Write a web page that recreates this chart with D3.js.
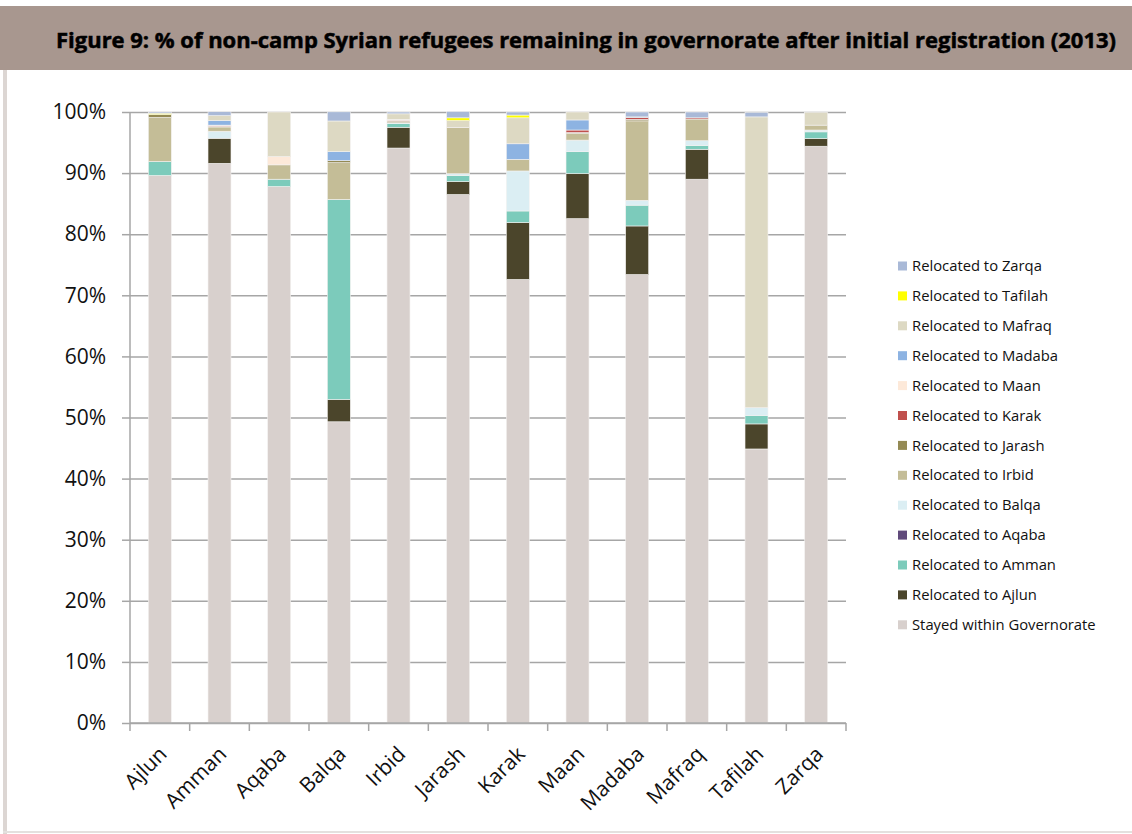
<!DOCTYPE html>
<html>
<head>
<meta charset="utf-8">
<script src="https://cdn.jsdelivr.net/npm/d3@7"></script>
<style>
  html, body { margin: 0; padding: 0; background: #fff; }
  svg { display: block; }
</style>
</head>
<body>
<svg id="chart" width="1132" height="834"></svg>
<script>
// Governorates where refugees first registered
const governorates = ["Ajlun", "Amman", "Aqaba", "Balqa", "Irbid", "Jarash", "Karak", "Maan", "Madaba", "Mafraq", "Tafilah", "Zarqa"];

// Share (%) of each governorate's registrants, by where they ended up
const stayed  = [89.6, 91.6, 87.8, 49.3, 94.1, 86.5, 72.6, 82.55, 73.4, 89.0, 44.85, 94.4];
const toAjlun = [0, 4.1, 0, 3.65, 3.4, 2.1, 9.3, 7.35, 7.95, 4.9, 4.1, 1.25];
const toAmman = [2.3, 0, 1.2, 32.75, 0.6, 1.0, 1.9, 3.6, 3.4, 0.6, 1.35, 1.1];
const toAqaba = [0, 0, 0, 0, 0, 0, 0, 0, 0, 0, 0, 0];
const toBalqa = [0, 1.15, 0, 0, 0.15, 0.3, 6.55, 1.9, 0.8, 0.8, 1.3, 0.3];
const toIrbid = [7.2, 0.7, 2.35, 6.0, 0, 7.6, 1.9, 1.1, 13.0, 3.55, 0, 0.8];
const toJarash = [0.5, 0, 0, 0.33, 0.25, 0, 0, 0.15, 0.25, 0, 0, 0];
const toKarak = [0, 0.15, 0, 0, 0.15, 0, 0, 0.4, 0.3, 0.2, 0, 0];
const toMaan = [0, 0.15, 1.35, 0, 0.15, 0, 0, 0, 0, 0, 0, 0];
const toMadaba = [0, 0.75, 0, 1.5, 0, 0, 2.55, 1.65, 0.1, 0, 0, 0];
const toMafraq = [0, 0.8, 7.3, 5.0, 0.9, 1.1, 4.25, 1.3, 0, 0, 47.6, 2.1];
const toTafilah = [0.2, 0, 0, 0, 0, 0.45, 0.45, 0, 0, 0, 0, 0];
const toZarqa = [0.2, 0.65, 0, 1.5, 0.3, 1.05, 0.5, 0, 0.8, 0.95, 0.75, 0];

// Series names, bottom of the stack first
const seriesNames = [
  "Stayed within Governorate", "Relocated to Ajlun", "Relocated to Amman", "Relocated to Aqaba",
  "Relocated to Balqa", "Relocated to Irbid", "Relocated to Jarash", "Relocated to Karak",
  "Relocated to Maan", "Relocated to Madaba", "Relocated to Mafraq", "Relocated to Tafilah",
  "Relocated to Zarqa"
];
const seriesValues = [stayed, toAjlun, toAmman, toAqaba, toBalqa, toIrbid, toJarash, toKarak,
  toMaan, toMadaba, toMafraq, toTafilah, toZarqa];
const seriesColors = ["#d8d0cd", "#4b452b", "#7ccbbb", "#604a7b", "#dbeef3", "#c4bd97", "#948a54",
  "#c0504d", "#fde9d9", "#8db3e2", "#ddd9c3", "#ffff00", "#a9b9d7"];

const yTicks = [0, 10, 20, 30, 40, 50, 60, 70, 80, 90, 100];

const svg = d3.select("#chart");
const W = 1132, H = 834;

// Page frame: title band, left rule and bottom rule
svg.append("rect").attr("x", 0).attr("y", 6).attr("width", W).attr("height", 64).attr("fill", "#a8978f");
svg.append("rect").attr("x", 3).attr("y", 70).attr("width", 4).attr("height", H - 70).attr("fill", "#dcd6d3");
svg.append("rect").attr("x", 3).attr("y", 831).attr("width", W - 3).attr("height", 2).attr("fill", "#e4e0de");

svg.append("text")
  .attr("x", 56).attr("y", 48)
  .attr("font-family", "'Open Sans', 'Noto Sans', sans-serif")
  .attr("font-weight", 700)
  .attr("font-size", 21)
  .attr("textLength", 1060)
  .attr("lengthAdjust", "spacingAndGlyphs")
  .attr("fill", "#000")
  .attr("stroke", "#000")
  .attr("stroke-width", 0.5)
  .text("Figure 9: % of non-camp Syrian refugees remaining in governorate after initial registration (2013)");

// Scales
const plotLeft = 130, plotRight = 846, plotTop = 112, plotBottom = 723;
const x = d3.scaleBand().domain(governorates).range([plotLeft, plotRight])
  .paddingInner(0.615).paddingOuter(0.3075);
const y = d3.scaleLinear().domain([0, 100]).range([plotBottom, plotTop]);

const fontFamily = "'Open Sans', 'Noto Sans', sans-serif";

// Horizontal gridlines with tick labels
const yAxis = svg.append("g").attr("transform", `translate(${plotLeft},0)`)
  .call(d3.axisLeft(y).tickValues(yTicks).tickFormat(d => d + "%").tickSize(8).tickPadding(16));
yAxis.select(".domain").remove();
yAxis.selectAll(".tick line").attr("stroke", "#a6a6a6").attr("stroke-width", 1.5);
yAxis.selectAll(".tick text").attr("font-family", fontFamily).attr("font-size", 21).attr("fill", "#111");
yAxis.selectAll(".tick").append("line")
  .attr("x1", 0).attr("x2", plotRight - plotLeft)
  .attr("stroke", "#a6a6a6").attr("stroke-width", 1.5);

// Stacked bars
const rows = governorates.map((g, i) => {
  const r = { gov: g };
  seriesNames.forEach((s, k) => { r[s] = seriesValues[k][i]; });
  return r;
});
const stack = d3.stack().keys(seriesNames)(rows);

svg.append("g").selectAll("g")
  .data(stack)
  .join("g")
  .attr("fill", (d, k) => seriesColors[k])
  .selectAll("rect")
  .data(d => d)
  .join("rect")
  .attr("x", d => x(d.data.gov))
  .attr("width", x.bandwidth())
  .attr("y", d => y(d[1]))
  .attr("height", d => Math.max(0, y(d[0]) - y(d[1])))
  .attr("stroke", "#f4f2f1")
  .attr("stroke-width", d => (d[1] - d[0]) > 0 ? 0.6 : 0);

// Y axis line
svg.append("line").attr("x1", plotLeft).attr("x2", plotLeft).attr("y1", plotTop).attr("y2", plotBottom)
  .attr("stroke", "#a6a6a6").attr("stroke-width", 1.5);

// X axis with category boundary ticks
svg.append("line").attr("x1", plotLeft).attr("x2", plotRight).attr("y1", plotBottom).attr("y2", plotBottom)
  .attr("stroke", "#a6a6a6").attr("stroke-width", 1.5);
const edges = d3.range(governorates.length + 1).map(i => plotLeft + i * x.step());
svg.append("g").selectAll("line").data(edges).join("line")
  .attr("x1", d => d).attr("x2", d => d)
  .attr("y1", plotBottom).attr("y2", plotBottom + 8)
  .attr("stroke", "#a6a6a6").attr("stroke-width", 1.5);

svg.append("g").selectAll("text").data(governorates).join("text")
  .attr("transform", d => `translate(${x(d) + x.bandwidth() / 2 - 2},${plotBottom + 22}) rotate(-45)`)
  .attr("text-anchor", "end")
  .attr("dy", "0.7em")
  .attr("font-family", fontFamily)
  .attr("font-size", 21)
  .attr("fill", "#111")
  .text(d => d);

// Legend, top entry is the top of the stack
const legendOrder = d3.range(seriesNames.length).reverse();
const legend = svg.append("g").selectAll("g").data(legendOrder).join("g")
  .attr("transform", (k, i) => `translate(898,${266 + i * 29.9})`);
legend.append("rect").attr("x", 0).attr("y", -4.5).attr("width", 9).attr("height", 9)
  .attr("fill", k => seriesColors[k]);
legend.append("text").attr("x", 14).attr("y", 0).attr("dy", "0.35em")
  .attr("font-family", fontFamily).attr("font-size", 14.8).attr("fill", "#111")
  .text(k => seriesNames[k]);
</script>
</body>
</html>
